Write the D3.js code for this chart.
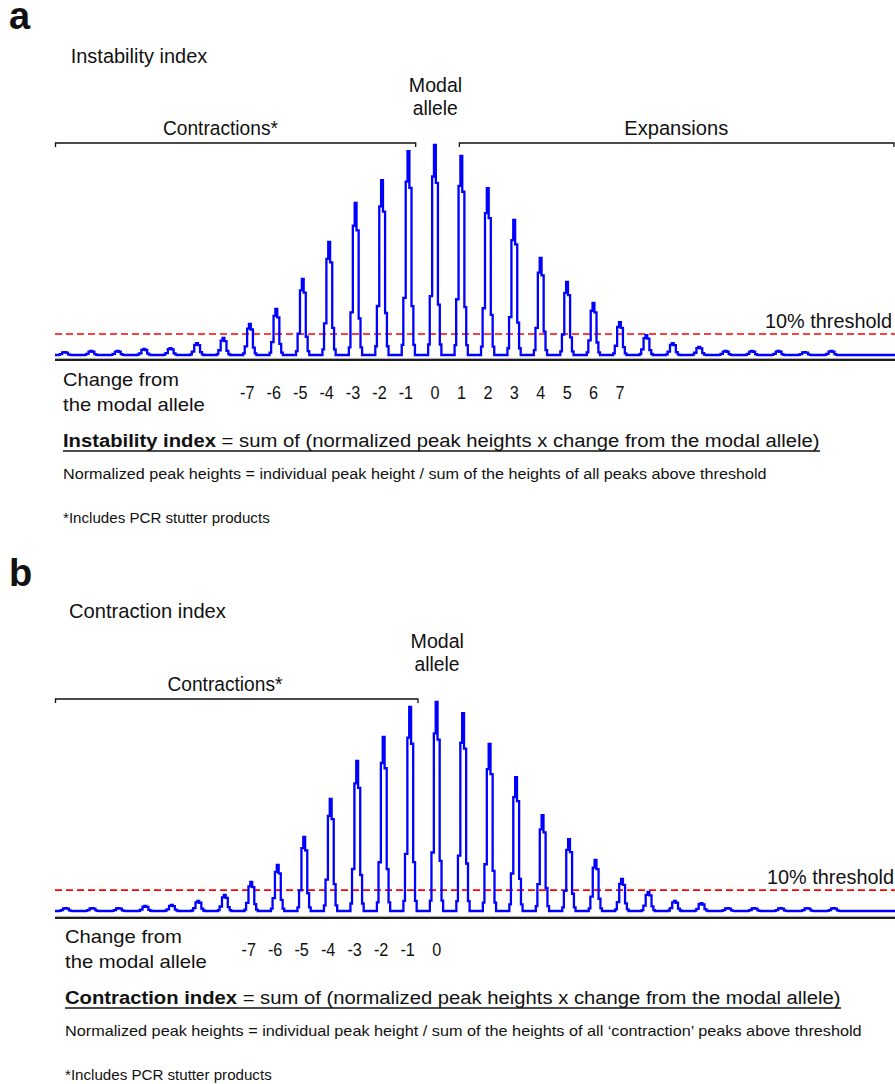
<!DOCTYPE html>
<html>
<head>
<meta charset="utf-8">
<script src="https://cdn.jsdelivr.net/npm/d3@7"></script>
<style>
  html, body { margin: 0; padding: 0; background: #fff; }
  svg { display: block; }
  text { font-family: "Liberation Sans", Arial, Helvetica, sans-serif; fill: #111; }
</style>
</head>
<body>
<svg id="fig" width="895" height="1084"></svg>
<script>
// Repeat-unit change relative to the modal allele, one entry per peak in the trace
const repeatChange = [-14, -13, -12, -11, -10, -9, -8, -7, -6, -5, -4, -3, -2, -1, 0,
                      1, 2, 3, 4, 5, 6, 7, 8, 9, 10, 11, 12, 13, 14, 15];

// Peak heights, % of the modal-allele peak (panel a trace)
const peakHeightsA = [1.4, 1.9, 1.9, 2.9, 3.3, 5.7, 8.1, 14.8, 21.9, 36.2, 53.8, 72.4, 83.3, 97.1, 100,
                      94.8, 79.5, 64.3, 46.2, 34.8, 24.8, 15.7, 9.5, 5.7, 3.8, 1.9, 1.9, 1.9, 1.4, 1.9];

// Peak heights, % of the modal-allele peak (panel b trace)
const peakHeightsB = [1.4, 1.4, 1.4, 2.4, 2.9, 4.8, 7.7, 13.9, 22.0, 35.4, 53.6, 71.8, 83.3, 97.6, 100,
                      94.7, 79.9, 64.1, 45.9, 34.4, 24.4, 15.3, 9.1, 4.8, 3.8, 1.4, 1.4, 1.4, 1.4, 1.4];

// Peak-height threshold, % of the modal peak
const thresholdPct = 10;

// Labelled changes under each trace
const tickValuesA = [-7, -6, -5, -4, -3, -2, -1, 0, 1, 2, 3, 4, 5, 6, 7];
const tickValuesB = [-7, -6, -5, -4, -3, -2, -1, 0];

const svg = d3.select("#fig");

// Draw a text line and stretch it horizontally to a given width
function fitText(parent, parts, x, y, size, width, anchor) {
  const t = parent.append("text").attr("x", 0).attr("y", 0).attr("font-size", size);
  parts.forEach(p => {
    t.append("tspan").attr("font-weight", p.bold ? "bold" : "normal").text(p.text);
  });
  const w = t.node().getComputedTextLength();
  const k = width / w;
  const x0 = anchor === "middle" ? x - width / 2 : x;
  t.attr("transform", `translate(${x0},${y}) scale(${k},1)`);
  return t;
}

// Stepped electropherogram peak shape: [offset in repeat units, fraction of peak height]
const peakProfile = [[-0.26, 0.05], [-0.20, 0.28], [-0.11, 0.85], [-0.04, 1.0],
                     [0.03, 0.82], [0.11, 0.24], [0.18, 0.05], [0.24, 0]];

function drawPanel(cfg) {
  const g = svg.append("g");
  const x = d3.scaleLinear().domain([-14, 15]).range(cfg.xRange);
  const y = d3.scaleLinear().domain([0, 100]).range([cfg.base, cfg.base - cfg.fullHeight]);
  const xL = 55, xR = 895;

  // panel letter and title
  g.append("text").attr("x", 9).attr("y", cfg.letterY).attr("font-size", 38)
    .attr("font-weight", "bold").text(cfg.letter);
  fitText(g, [{ text: cfg.title }], cfg.titleX, cfg.titleY, 19.5, cfg.titleW, "start");

  // modal allele label
  fitText(g, [{ text: "Modal" }], x(0) + 0.5, cfg.modalY, 19.5, 53.4, "middle");
  fitText(g, [{ text: "allele" }], x(0) + 0.3, cfg.modalY + 23.3, 19.5, 45, "middle");

  // brackets
  const bracket = (x1, x2, yb) => g.append("path")
    .attr("d", `M${x1},${yb + 4}V${yb}H${x2}V${yb + 4}`)
    .attr("fill", "none").attr("stroke", "#111").attr("stroke-width", 1.3);
  bracket(xL + 0.5, cfg.contrEnd, cfg.bracketY);
  fitText(g, [{ text: "Contractions*" }], cfg.contrLabelX, cfg.bracketY - 8, 19.5, 115, "middle");
  if (cfg.showExpansions) {
    bracket(x(0.92), xR - 1, cfg.bracketY);
    fitText(g, [{ text: "Expansions" }], 676.3, cfg.bracketY - 8, 19.5, 104, "middle");
  }

  // threshold
  g.append("line").attr("x1", xL).attr("x2", xR)
    .attr("y1", y(thresholdPct)).attr("y2", y(thresholdPct))
    .attr("stroke", "#ff0000").attr("stroke-width", 1.6).attr("stroke-dasharray", "7,4");
  fitText(g, [{ text: "10% threshold" }], cfg.threshX, y(thresholdPct) - 6, 19.5, 127, "start");

  // axis rule under the trace
  g.append("line").attr("x1", xL).attr("x2", xR).attr("y1", cfg.axisY - 1.6).attr("y2", cfg.axisY - 1.6)
    .attr("stroke", "#a8a8a8").attr("stroke-width", 1);
  g.append("line").attr("x1", xL).attr("x2", xR).attr("y1", cfg.axisY).attr("y2", cfg.axisY)
    .attr("stroke", "#1e1e1e").attr("stroke-width", 2.2);

  // trace
  const pts = [[x.invert(xL), 0]];
  repeatChange.forEach((k, i) => {
    peakProfile.forEach(([dx, f]) => pts.push([k + dx, cfg.heights[i] * f]));
  });
  pts.push([x.invert(xR), 0]);
  const line = d3.line().x(d => x(d[0])).y(d => y(d[1])).curve(d3.curveStepAfter);
  g.append("path").attr("d", line(pts)).attr("fill", "none")
    .attr("stroke", "#0000ff").attr("stroke-width", 2.3).attr("stroke-linejoin", "miter");

  // change labels
  fitText(g, [{ text: "Change from" }], cfg.textX, cfg.changeY, 18, cfg.changeW, "start");
  fitText(g, [{ text: "the modal allele" }], cfg.textX, cfg.changeY + 24.5, 18, cfg.alleleW, "start");
  const digitHalf = 0.556 * 18 * 0.9 / 2;
  cfg.ticks.forEach(v => {
    g.append("text").attr("font-size", 18).attr("text-anchor", "end")
      .attr("transform", `translate(${x(v) + digitHalf},${cfg.changeY + 12.5}) scale(0.9,1)`)
      .text(v < 0 ? "-" + Math.abs(v) : String(v));
  });

  // index definition
  fitText(g, [{ text: cfg.indexName, bold: true }, { text: " = sum of (normalized peak heights x change from the modal allele)" }],
    cfg.textX, cfg.formulaY, 19, cfg.formulaW, "start");
  g.append("line").attr("x1", cfg.textX).attr("x2", cfg.textX + cfg.formulaW)
    .attr("y1", cfg.formulaY + 4).attr("y2", cfg.formulaY + 4)
    .attr("stroke", "#111").attr("stroke-width", 1.3);
  fitText(g, [{ text: cfg.normText }], cfg.textX, cfg.formulaY + 32, 15, cfg.normW, "start");
  fitText(g, [{ text: "*Includes PCR stutter products" }], cfg.textX, cfg.formulaY + 76, 15, cfg.inclW, "start");
}

drawPanel({
  letter: "a", letterY: 29, title: "Instability index", titleX: 70.7, titleY: 62.7, titleW: 136.6,
  modalY: 91.7, bracketY: 143, contrEnd: 415.7, contrLabelX: 220.5, showExpansions: true,
  base: 355, axisY: 360, fullHeight: 210, xRange: [65, 831.5], heights: peakHeightsA,
  threshX: 765, ticks: tickValuesA,
  textX: 63, changeY: 386, changeW: 116, alleleW: 142,
  indexName: "Instability index", formulaY: 447, formulaW: 757,
  normText: "Normalized peak heights = individual peak height / sum of the heights of all peaks above threshold",
  normW: 704, inclW: 207
});

drawPanel({
  letter: "b", letterY: 586, title: "Contraction index", titleX: 69, titleY: 618, titleW: 157,
  modalY: 647.5, bracketY: 699, contrEnd: 418, contrLabelX: 225, showExpansions: false,
  base: 911, axisY: 918, fullHeight: 209, xRange: [66, 834], heights: peakHeightsB,
  threshX: 767, ticks: tickValuesB,
  textX: 65, changeY: 943, changeW: 117, alleleW: 142,
  indexName: "Contraction index", formulaY: 1004, formulaW: 776,
  normText: "Normalized peak heights = individual peak height / sum of the heights of all \u2018contraction\u2019 peaks above threshold",
  normW: 797, inclW: 207
});
</script>
</body>
</html>
